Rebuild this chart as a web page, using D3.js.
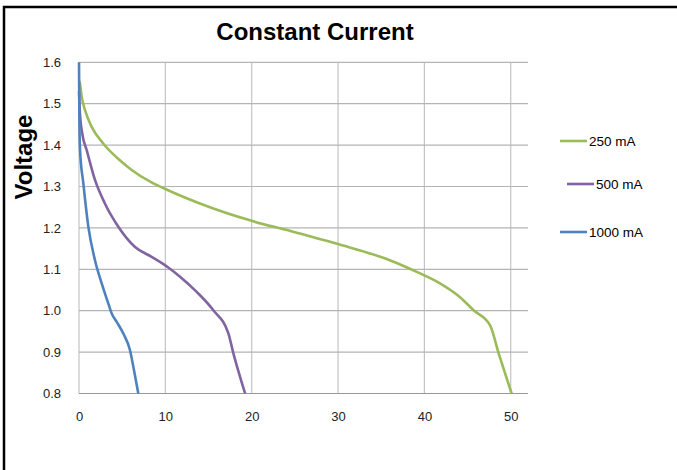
<!DOCTYPE html>
<html>
<head>
<meta charset="utf-8">
<script src="https://cdn.jsdelivr.net/npm/d3@7"></script>
<style>
  body { margin: 0; background: white; }
  svg { font-family: "Liberation Sans", Arial, sans-serif; }
</style>
</head>
<body>
<div id="chart"></div>
<script>
var seriesNames = ["250 mA", "500 mA", "1000 mA"];
var seriesColors = ["#9bbb59", "#8064a2", "#4f81bd"];

var green = [[0, 1.555], [0.1, 1.55], [0.31, 1.517], [0.69, 1.485], [1.47, 1.444], [2.8, 1.404],
  [4.7, 1.364], [6.1, 1.34], [8.3, 1.311], [10, 1.294], [14, 1.259], [20, 1.217], [24.4, 1.193],
  [30, 1.161], [36, 1.122], [39.5, 1.09], [41.8, 1.066], [44.1, 1.033], [45.7, 1.001],
  [47.6, 0.965], [48.6, 0.897], [50.1, 0.8]];
var purple = [[0, 1.53], [0.1, 1.48], [0.4, 1.425], [0.89, 1.388], [1.85, 1.316], [3.0, 1.259],
  [4.55, 1.203], [6.49, 1.154], [8.42, 1.13], [10.3, 1.105], [11.7, 1.082], [13.6, 1.046],
  [15.56, 1.001], [17.3, 0.945], [17.88, 0.897], [19.24, 0.8]];
var blue = [[0, 1.6], [0.05, 1.45], [0.12, 1.388], [0.5, 1.308], [1.08, 1.203], [1.85, 1.122],
  [2.63, 1.066], [3.4, 1.017], [3.79, 0.993], [4.37, 0.973], [5.13, 0.945], [5.9, 0.905],
  [6.3, 0.864], [6.87, 0.8]];
var seriesData = [green, purple, blue];

var xTicks = [0, 10, 20, 30, 40, 50];
var yTicks = [0.8, 0.9, 1.0, 1.1, 1.2, 1.3, 1.4, 1.5, 1.6];

var svg = d3.select("#chart")
    .append("svg")
    .attr("width", 677)
    .attr("height", 470);

// outer frame
svg.append("rect")
    .attr("x", 4).attr("y", 7)
    .attr("width", 700).attr("height", 500)
    .style("fill", "white")
    .style("stroke", "black")
    .style("stroke-width", 2.5);

var x = d3.scaleLinear().domain([0, 52]).range([79, 528]);
var y = d3.scaleLinear().domain([0.8, 1.6]).range([393.5, 62.3]);

// grid
svg.append("g")
    .selectAll("line")
    .data(xTicks)
    .enter().append("line")
    .attr("x1", d => x(d)).attr("x2", d => x(d))
    .attr("y1", y(1.6)).attr("y2", y(0.8))
    .style("stroke", "#c4c4c4")
    .style("stroke-width", 1.2);

svg.append("g")
    .selectAll("line")
    .data(yTicks)
    .enter().append("line")
    .attr("x1", x(0)).attr("x2", x(52))
    .attr("y1", d => y(d)).attr("y2", d => y(d))
    .style("stroke", d => d == 0.8 ? "#999" : "#b4b4b4")
    .style("stroke-width", 1.2);

// axes labels
var yAxis = svg.append("g")
    .attr("transform", "translate(" + x(0) + ",0)")
    .call(d3.axisLeft(y).tickValues(yTicks).tickFormat(d3.format(".1f")).tickSize(0).tickPadding(18));
yAxis.select(".domain").remove();
yAxis.selectAll("text").style("font-size", "13px").style("fill", "#222");

var xAxis = svg.append("g")
    .attr("transform", "translate(0," + y(0.8) + ")")
    .call(d3.axisBottom(x).tickValues(xTicks).tickSize(0).tickPadding(18));
xAxis.select(".domain").remove();
xAxis.selectAll("text").style("font-size", "13px").style("fill", "#222");

// curves
var line = d3.line()
    .x(d => x(d[0]))
    .y(d => y(d[1]))
    .curve(d3.curveMonotoneX);

svg.append("g")
    .selectAll("path")
    .data(seriesData)
    .enter().append("path")
    .attr("d", line)
    .style("fill", "none")
    .style("stroke", (d, i) => seriesColors[i])
    .style("stroke-width", 2.6);

// title
svg.append("text")
    .attr("x", 315).attr("y", 40)
    .attr("text-anchor", "middle")
    .style("font-size", "24px")
    .style("font-weight", "bold")
    .text("Constant Current");

svg.append("text")
    .attr("transform", "translate(32,157) rotate(-90)")
    .attr("text-anchor", "middle")
    .style("font-size", "24px")
    .style("font-weight", "bold")
    .text("Voltage");

// legend
var legendPos = [[560, 141], [567, 184], [560, 232]];
var legend = svg.append("g")
    .selectAll("g")
    .data(seriesNames)
    .enter().append("g")
    .attr("transform", (d, i) => "translate(" + legendPos[i][0] + "," + legendPos[i][1] + ")");
legend.append("line")
    .attr("x1", 0).attr("x2", 27)
    .style("stroke", (d, i) => seriesColors[i])
    .style("stroke-width", 2.6);
legend.append("text")
    .attr("x", 29).attr("y", 5)
    .style("font-size", "13.5px")
    .text(d => d);
</script>
</body>
</html>
